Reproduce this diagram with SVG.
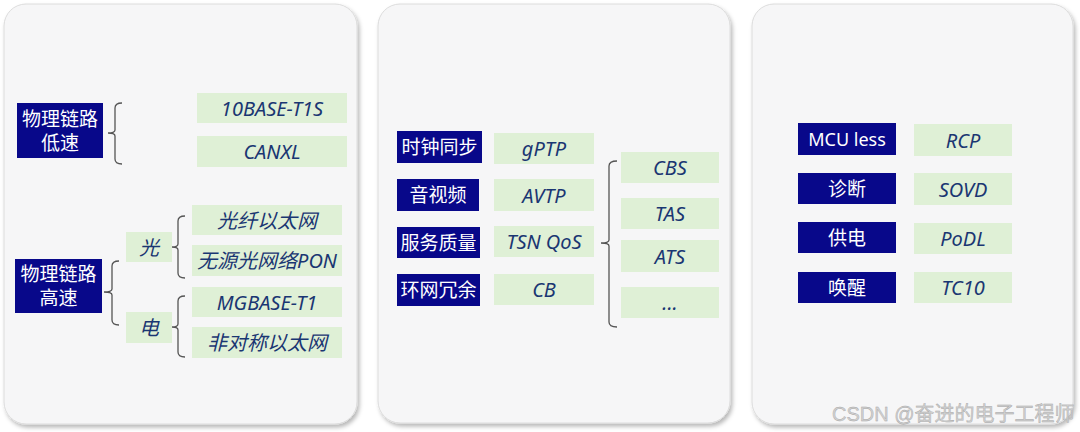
<svg xmlns="http://www.w3.org/2000/svg" width="1080" height="432" viewBox="0 0 1080 432">
<defs>
<filter id="sh" x="-5%" y="-5%" width="112%" height="112%">
<feDropShadow dx="2" dy="3" stdDeviation="2" flood-color="#000" flood-opacity="0.28"/>
</filter>
<style>
.panel{fill:#f6f6f7;stroke:#dcdcdc;stroke-width:1;filter:url(#sh)}
.dk{fill:#08088a}
.gr{fill:#dff0d6}
.dt{fill:#ffffff;font-family:"Noto Sans","Noto Sans CJK SC",sans-serif;font-size:19px;text-anchor:middle;dominant-baseline:central}
.dl{font-size:18px}
.gt{fill:#1a3672;font-family:"Noto Sans","Noto Sans CJK SC",sans-serif;font-size:20px;font-style:italic;text-anchor:middle;dominant-baseline:central}
.br{fill:none;stroke:#555;stroke-width:1.3}
.wm{fill:#d2d2d2;stroke:#a5a5a5;stroke-width:0.4;font-family:"Liberation Sans","Noto Sans CJK SC",sans-serif;font-size:20px}
</style>
</defs>
<rect class="panel" x="4" y="4" width="353" height="420" rx="22"/>
<rect class="panel" x="378" y="4" width="352" height="419" rx="22"/>
<rect class="panel" x="752" y="4" width="321" height="420" rx="22"/>

<g id="connectors">
<path class="br" d="M122,103 Q115,103 115,108 V130 Q115,133 108,133 Q115,133 115,136 V159 Q115,164 122,164"/>
<path class="br" d="M119,261 Q112,261 112,266 V289 Q112,292 104,292 Q112,292 112,295 V320 Q112,325 119,325"/>
<path class="br" d="M185,216 Q178,216 178,221 V244 Q178,247 172,247 Q178,247 178,250 V273 Q178,278 185,278"/>
<path class="br" d="M185,296 Q178,296 178,301 V324 Q178,327 172,327 Q178,327 178,330 V352 Q178,357 185,357"/>
<path class="br" d="M617,161 Q609,161 609,166 V240 Q609,243 601,243 Q609,243 609,246 V322 Q609,327 617,327"/>
</g>

<g id="n-low"><rect class="dk" x="17" y="103" width="86" height="55"/><text class="dt" x="60" y="119">物理链路</text><text class="dt" x="60" y="143">低速</text></g>
<g id="n-10base"><rect class="gr" x="197" y="93" width="150" height="30"/><text class="gt" x="272" y="108">10BASE-T1S</text></g>
<g id="n-canxl"><rect class="gr" x="197" y="136" width="150" height="31"/><text class="gt" x="272" y="151.5">CANXL</text></g>
<g id="n-high"><rect class="dk" x="15" y="259" width="87" height="54"/><text class="dt" x="58.5" y="274">物理链路</text><text class="dt" x="58.5" y="298">高速</text></g>
<g id="n-guang"><rect class="gr" x="126" y="232" width="46" height="30"/><text class="gt" x="149" y="247">光</text></g>
<g id="n-dian"><rect class="gr" x="126" y="312" width="46" height="31"/><text class="gt" x="149" y="327.5">电</text></g>
<g id="n-fiber"><rect class="gr" x="192" y="205" width="150" height="30"/><text class="gt" x="267" y="220">光纤以太网</text></g>
<g id="n-pon"><rect class="gr" x="192" y="245" width="150" height="31"/><text class="gt" x="267" y="260.5">无源光网络PON</text></g>
<g id="n-mgbase"><rect class="gr" x="192" y="287" width="150" height="30"/><text class="gt" x="267" y="302">MGBASE-T1</text></g>
<g id="n-asym"><rect class="gr" x="192" y="327" width="150" height="31"/><text class="gt" x="267" y="342.5">非对称以太网</text></g>

<g id="n-clock"><rect class="dk" x="397" y="131" width="85" height="32"/><text class="dt" x="439.5" y="147">时钟同步</text></g>
<g id="n-av"><rect class="dk" x="397" y="179" width="82" height="32"/><text class="dt" x="438" y="195">音视频</text></g>
<g id="n-qos"><rect class="dk" x="397" y="227" width="83" height="31"/><text class="dt" x="438.5" y="242.5">服务质量</text></g>
<g id="n-ring"><rect class="dk" x="397" y="274" width="83" height="32"/><text class="dt" x="438.5" y="290">环网冗余</text></g>
<g id="n-gptp"><rect class="gr" x="494" y="133" width="100" height="31"/><text class="gt" x="544" y="148.5">gPTP</text></g>
<g id="n-avtp"><rect class="gr" x="494" y="179" width="100" height="32"/><text class="gt" x="544" y="195">AVTP</text></g>
<g id="n-tsnqos"><rect class="gr" x="494" y="226" width="100" height="31"/><text class="gt" x="544" y="241.5">TSN QoS</text></g>
<g id="n-cb"><rect class="gr" x="494" y="274" width="100" height="31"/><text class="gt" x="544" y="289.5">CB</text></g>
<g id="n-cbs"><rect class="gr" x="621" y="152" width="98" height="31"/><text class="gt" x="670" y="167.5">CBS</text></g>
<g id="n-tas"><rect class="gr" x="621" y="198" width="98" height="31"/><text class="gt" x="670" y="213.5">TAS</text></g>
<g id="n-ats"><rect class="gr" x="621" y="240" width="98" height="32"/><text class="gt" x="670" y="256">ATS</text></g>
<g id="n-more"><rect class="gr" x="621" y="287" width="98" height="31"/><text class="gt" x="670" y="302.5">...</text></g>

<g id="n-mcu"><rect class="dk" x="798" y="123" width="98" height="32"/><text class="dt dl" x="847" y="139">MCU less</text></g>
<g id="n-diag"><rect class="dk" x="798" y="173" width="98" height="31"/><text class="dt" x="847" y="188.5">诊断</text></g>
<g id="n-power"><rect class="dk" x="798" y="222" width="98" height="31"/><text class="dt" x="847" y="237.5">供电</text></g>
<g id="n-wake"><rect class="dk" x="798" y="272" width="98" height="31"/><text class="dt" x="847" y="287.5">唤醒</text></g>
<g id="n-rcp"><rect class="gr" x="914" y="124" width="98" height="32"/><text class="gt" x="963" y="140">RCP</text></g>
<g id="n-sovd"><rect class="gr" x="914" y="173" width="98" height="32"/><text class="gt" x="963" y="189">SOVD</text></g>
<g id="n-podl"><rect class="gr" x="914" y="223" width="98" height="31"/><text class="gt" x="963" y="238.5">PoDL</text></g>
<g id="n-tc10"><rect class="gr" x="914" y="272" width="98" height="31"/><text class="gt" x="963" y="287.5">TC10</text></g>

<text class="wm" x="832" y="421">CSDN @奋进的电子工程师</text>
</svg>
